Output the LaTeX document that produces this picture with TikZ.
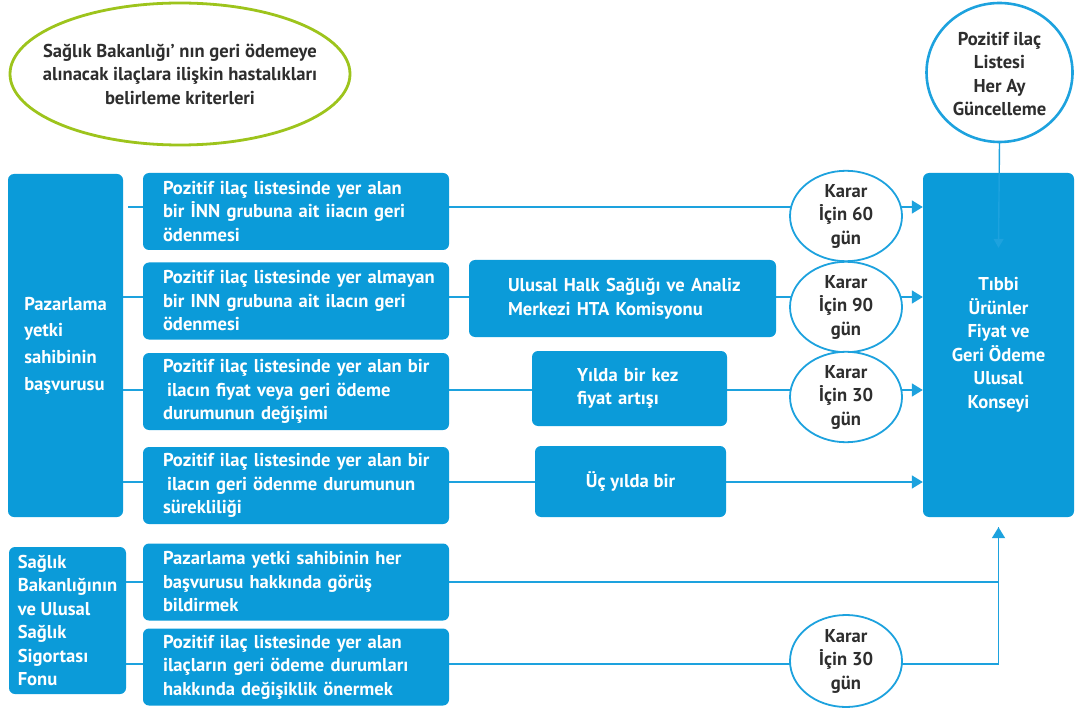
\documentclass[tikz,border=0pt]{standalone}
\usepackage{fontspec}
\setmainfont{PT Sans}
\usetikzlibrary{arrows.meta,shapes.geometric}
\definecolor{boxblue}{HTML}{0B9BD9}
\definecolor{lineblue}{HTML}{1DA2DE}
\definecolor{limegreen}{HTML}{9DC41C}
\definecolor{inkgray}{HTML}{2E2E2E}
% one unbreakable text line inside a fixed-width box
\newcommand{\rowtext}[1]{\mbox{#1}}
\begin{document}
\begin{tikzpicture}[x=1pt,y=-1pt,
  font=\bfseries\fontsize{18.6}{23.5}\selectfont,
  bluebox/.style={fill=boxblue, rounded corners=6pt, text=white, inner sep=0pt},
  midbox/.style={bluebox, minimum width=306pt, minimum height=77pt, text width=266pt, align=left},
  sidebox/.style={bluebox, align=left},
  karar/.style={ellipse, draw=lineblue, line width=1.8pt, fill=white, text=inkgray,
    minimum width=112pt, minimum height=88pt, inner sep=0pt, align=center},
  link/.style={draw=lineblue, line width=1.8pt},
  tip/.style={-{Triangle[length=11pt,width=13pt]}}
]
\useasboundingbox (0,0) rectangle (1075,708);

% row levels of the connectors
\coordinate (r1) at (0,207);
\coordinate (r2) at (0,297);
\coordinate (r3) at (0,390);
\coordinate (r4) at (0,482);
\coordinate (r5) at (0,582);
\coordinate (r6) at (0,664);

% applicants
\node[sidebox, minimum width=115pt, minimum height=343pt,
  font=\bfseries\fontsize{18.6}{26.7}\selectfont] (app) at (65.5,345.5)
  {Pazarlama\\yetki\\sahibinin\\başvurusu};
\node[sidebox, minimum width=117pt, minimum height=147pt] (gov) at (67.5,620.5)
  {Sağlık\\Bakanlığının\\ve Ulusal\\Sağlık\\Sigortası\\Fonu};

% council
\node[bluebox, minimum width=151pt, minimum height=344pt, align=center] (council) at (998.5,345)
  {Tıbbi\\Ürünler\\Fiyat ve\\Geri Ödeme\\Ulusal\\Konseyi};

% connectors, drawn first so the boxes cover them
\draw[link, tip] ([xshift=5pt]app.east |- r1) -- (council.west |- r1);
\draw[link, tip] (app.east |- r2) -- (council.west |- r2);
\draw[link, tip] (app.east |- r3) -- (council.west |- r3);
\draw[link, tip] (app.east |- r4) -- (council.west |- r4);
\draw[link, tip] (gov.east |- r5) -| ([yshift=-10pt]council.south);
\draw[link] (gov.east |- r6) -| ([yshift=-10pt]council.south);

% requests
\node[midbox] (m1) at (296,211.5)
  {\rowtext{Pozitif ilaç listesinde yer alan}\\\rowtext{bir İNN grubuna ait iiacın geri}\\\rowtext{ödenmesi}};
\node[midbox] (m2) at (296,301)
  {\rowtext{Pozitif ilaç listesinde yer almayan}\\\rowtext{bir INN grubuna ait ilacın geri}\\\rowtext{ödenmesi}};
\node[midbox] (m3) at (296,391.5)
  {\rowtext{Pozitif ilaç listesinde yer alan bir}\\\rowtext{\hspace*{4pt}ilacın fiyat veya geri ödeme}\\\rowtext{durumunun değişimi}};
\node[midbox] (m4) at (296,485.5)
  {\rowtext{Pozitif ilaç listesinde yer alan bir}\\\rowtext{\hspace*{4pt}ilacın geri ödenme durumunun}\\\rowtext{sürekliliği}};
\node[midbox] (m5) at (296,582)
  {\rowtext{Pazarlama yetki sahibinin her}\\\rowtext{başvurusu hakkında görüş}\\\rowtext{bildirmek}};
\node[midbox] (m6) at (296,667)
  {\rowtext{Pozitif ilaç listesinde yer alan}\\\rowtext{ilaçların geri ödeme durumları}\\\rowtext{hakkında değişiklik önermek}};

% intermediate steps
\node[bluebox, minimum width=307pt, minimum height=77pt, text width=229pt, align=left] (hta) at (622.5,298.5)
  {\rowtext{Ulusal Halk Sağlığı ve Analiz}\\\rowtext{Merkezi HTA Komisyonu}};
\node[bluebox, minimum width=195pt, minimum height=75pt, text width=105pt, align=left] (yil) at (629.5,388.5)
  {\rowtext{Yılda bir kez}\\\rowtext{fiyat artışı}};
\node[bluebox, minimum width=191pt, minimum height=71pt, align=center] (uc) at (630.5,481.5)
  {Üç yılda bir};

% decision periods
\node[karar] (k1) at (846,216) {Karar\\İçin 60\\gün};
\node[karar, minimum height=90pt] (k2) at (846,307) {Karar\\İçin 90\\gün};
\node[karar] (k3) at (846,397) {Karar\\İçin 30\\gün};
\node[karar, minimum height=92pt] (k4) at (846,661) {Karar\\İçin 30\\gün};

% criteria ellipse and monthly update circle
\draw[draw=limegreen, line width=2.8pt, fill=white] (180,74) ellipse [x radius=170, y radius=71];
\node[text=inkgray, align=center, inner sep=0pt] (crit) at (180,74)
  {Sağlık Bakanlığı’ nın geri ödemeye\\alınacak ilaçlara ilişkin hastalıkları\\belirleme kriterleri};
\draw[draw=lineblue, line width=2.6pt, fill=white] (999.5,72.5) ellipse [x radius=73, y radius=69.5];
\node[text=inkgray, align=center, inner sep=0pt] (pos) at (999.5,74)
  {Pozitif ilaç\\Listesi\\Her Ay\\Güncelleme};
\coordinate (posbottom) at (999.5,142);
\draw[link, line width=1.4pt, -{Triangle[length=9pt,width=10pt]}] (posbottom) -- ([yshift=-75pt]council.north);

\end{tikzpicture}
\end{document}
